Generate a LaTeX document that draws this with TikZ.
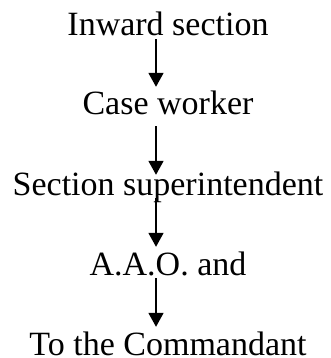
\documentclass[tikz,border=0pt]{standalone}
\usepackage{fontspec}
\setmainfont{Liberation Serif}
\usepackage{tikz}
\usepackage{xcolor}
\usetikzlibrary{arrows.meta}
\definecolor{vdarkgray}{HTML}{000000}

\tikzset{
	stage/.style={anchor=base, inner sep=0pt, text height=28pt, text depth=3pt, font=\fontsize{34}{40}\selectfont},
	flow/.style={color=vdarkgray, line width=1.8pt, -{Triangle[width=15pt,length=14pt]}}
}

\begin{document}
\begin{tikzpicture}[x=1pt, y=-1pt]
		\useasboundingbox (0,0) rectangle (330,358);
		\node[stage] (inward) at (168,36) {Inward section};
		\node[stage] (caseworker) at (168,115) {Case worker};
		\node[stage] (superintendent) at (168,195) {Section superintendent};
		\node[stage] (aao) at (168,275) {A.A.O. and};
		\node[stage] (commandant) at (168,355) {To the Commandant};
		\draw[flow] ([xshift=-12pt]inward.south) -- ([xshift=-12pt]caseworker.north);
		\draw[flow] ([xshift=-12pt,yshift=-8pt]caseworker.south) -- ([xshift=-12pt,yshift=-8pt]superintendent.north);
		\draw[flow] ([xshift=-12pt]superintendent.south) -- ([xshift=-12pt]aao.north);
		\draw[flow] ([xshift=-12pt]aao.south) -- ([xshift=-12pt]commandant.north);
	\end{tikzpicture}
\end{document}
